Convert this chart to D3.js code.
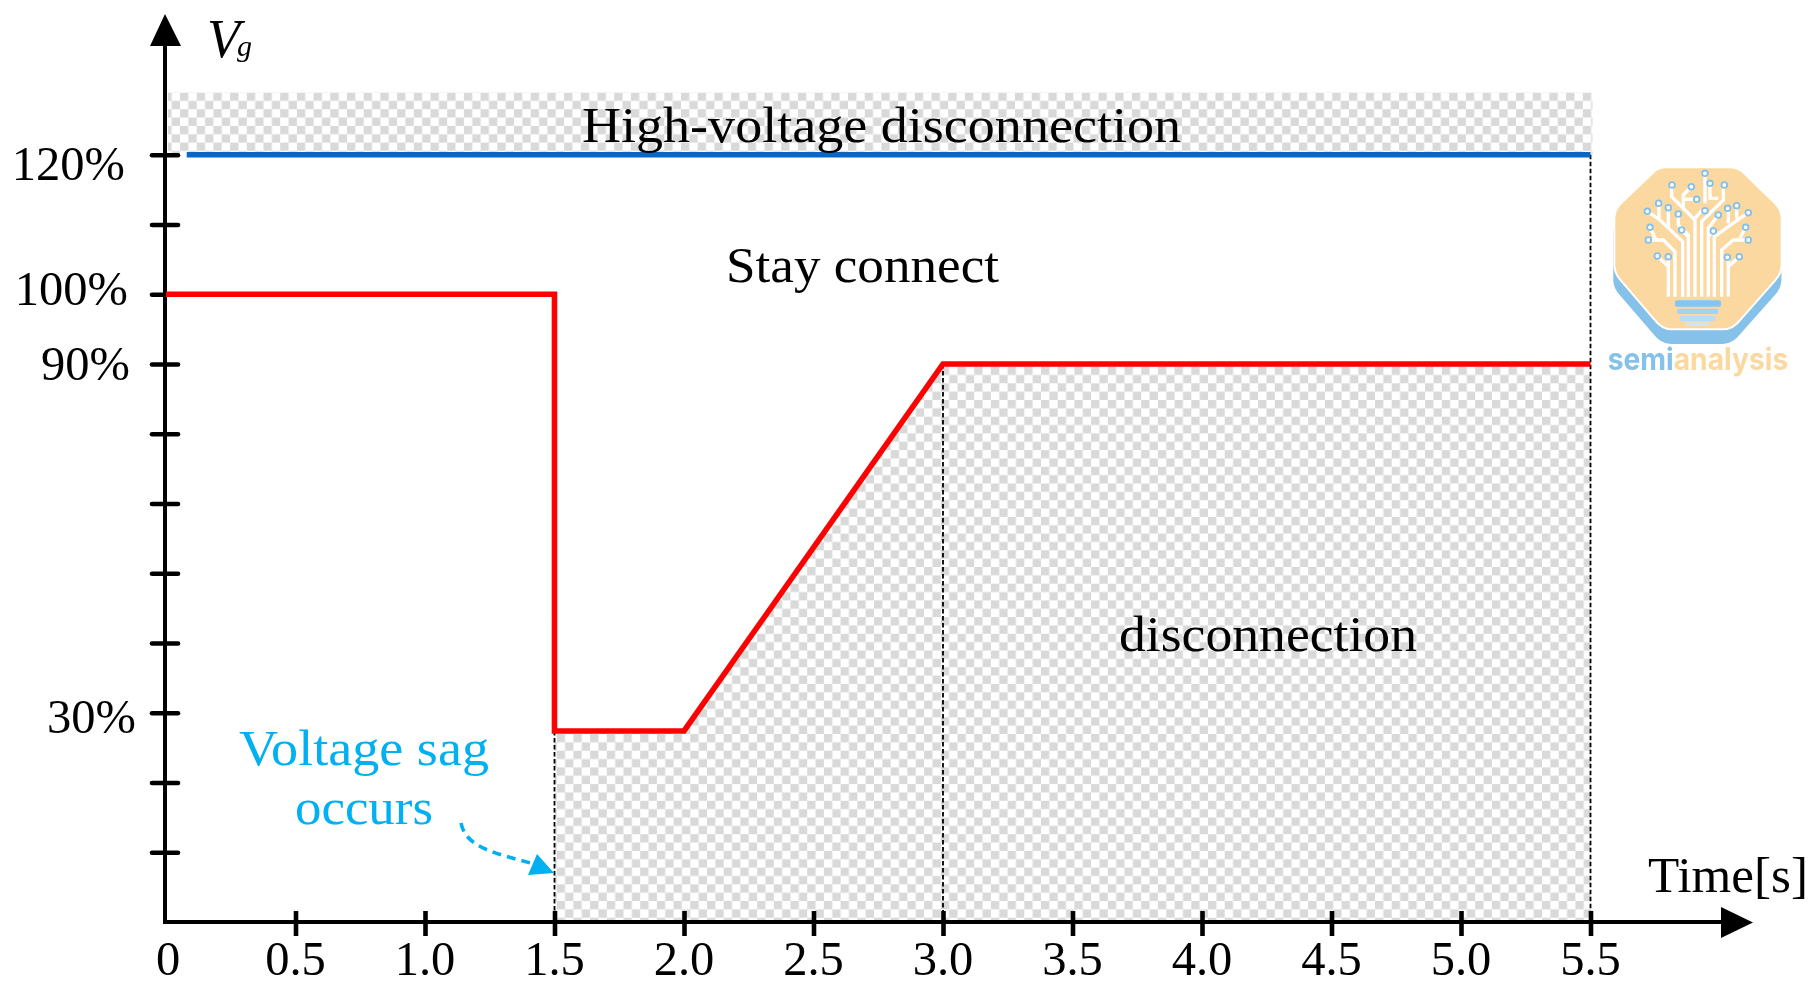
<!DOCTYPE html>
<html><head><meta charset="utf-8">
<script src="https://cdn.jsdelivr.net/npm/d3@7"></script>
<style>html,body{margin:0;padding:0;background:#fff;overflow:hidden}svg{display:block;filter:blur(0.45px)}
text{font-family:"Liberation Serif",serif;fill:#000}</style></head>
<body><svg id="c" width="1817" height="987"></svg>
<script>
// ---- data ----
const sagTimes   = [0, 1.5, 1.5, 2.0, 3.0, 5.5];
const sagVolts   = [100, 100, 27.4, 27.4, 90, 90];
const highTimes  = [0.08, 5.5];
const highVolts  = [120, 120];
const xTicks     = [0.5,1,1.5,2,2.5,3,3.5,4,4.5,5,5.5];
const xTickText  = ["0.5","1.0","1.5","2.0","2.5","3.0","3.5","4.0","4.5","5.0","5.5"];
const yTicks     = [10,20,30,42,54,66,78,90,100,110,120];
const yLabelVals = [120,100,90,30];
const yLabelText = ["120%","100%","90%","30%"];
const dropTimes  = [1.5,3.0,5.5];

const svg = d3.select("#c");
const x = d3.scaleLinear().domain([0,5.5]).range([166,1590.5]);
// the drawing's vertical axis is not uniform: 30% sits 3 ticks up, 90% 8 ticks up
const y = d3.scaleLinear().domain([0,30,90,100,120]).range([922,712.8,364,294.2,154.7]);

const defs = svg.append("defs");
function checker(id,ox,oy){
  const s=16.7,h=s/2;
  const p=defs.append("pattern").attr("id",id).attr("patternUnits","userSpaceOnUse")
    .attr("width",s).attr("height",s).attr("x",ox).attr("y",oy);
  p.append("rect").attr("width",s).attr("height",s).attr("fill","#fff");
  p.append("rect").attr("width",h).attr("height",h).attr("fill","#d9d9d9");
  p.append("rect").attr("x",h).attr("y",h).attr("width",h).attr("height",h).attr("fill","#d9d9d9");
}
checker("chkTop",180,92.5);
checker("chkLow",556.7,734);

// hatched regions
const area = d3.area().x(i=>x(sagTimes[i])).y1(i=>y(sagVolts[i])).y0(y(0));
svg.append("path").attr("fill","url(#chkLow)")
  .attr("d",area(sagTimes.map((d,i)=>i).slice(2)));
svg.append("rect").attr("fill","url(#chkTop)")
  .attr("x",x(0)+2).attr("y",92.5).attr("width",x(5.5)-x(0)).attr("height",y(120)-92.5);

// dashed droplines
const dropTop = t=> t===5.5 ? y(120) : t===3 ? y(90) : y(27.4);
svg.selectAll(".drop").data(dropTimes).join("line").attr("class","drop")
  .attr("x1",x).attr("x2",x).attr("y1",dropTop).attr("y2",y(0))
  .attr("stroke","#000").attr("stroke-width",1.8).attr("stroke-dasharray","4.5 2.5");

// axes
const xAxis = d3.axisBottom(x).tickValues(xTicks).tickFormat("").tickSize(12).tickSizeOuter(0);
const gx = svg.append("g").attr("transform",`translate(0,${y(0)})`).call(xAxis);
gx.select(".domain").attr("d",`M${x(0)-2},0H1725`).attr("stroke","#000").attr("stroke-width",4.2);
gx.selectAll(".tick line").attr("y1",-11).attr("y2",14).attr("stroke","#000").attr("stroke-width",4.6);
const yAxis = d3.axisLeft(y).tickValues(yTicks).tickFormat("").tickSize(12).tickSizeOuter(0);
const gy = svg.append("g").attr("transform",`translate(${x(0)-1},0)`).call(yAxis);
gy.select(".domain").attr("d",`M0,${y(0)+2}V42`).attr("stroke","#000").attr("stroke-width",4);
gy.selectAll(".tick line").attr("x1",-13).attr("x2",13).attr("stroke","#000").attr("stroke-width",4.6).attr("stroke-linecap","round");
svg.append("path").attr("d","M165,14L181,46L150,46Z").attr("fill","#000");
svg.append("path").attr("d","M1753,922.5L1721,907L1721,938Z").attr("fill","#000");

// lines
const line = d3.line().x(d=>x(d[0])).y(d=>y(d[1])).curve(d3.curveLinear);
svg.append("path").attr("fill","none").attr("stroke","#0a66c2").attr("stroke-width",5.4)
  .attr("d",line(highTimes.map((t,i)=>[t,highVolts[i]])));
svg.append("path").attr("fill","none").attr("stroke","#ff0000").attr("stroke-width",5.6).attr("stroke-linejoin","miter")
  .attr("d",line(sagTimes.map((t,i)=>[t,sagVolts[i]])));

// tick labels
const fs=50, tfs=48.5;
svg.selectAll(".xl").data(xTicks).join("text").attr("class","xl")
  .attr("x",d=>x(d)).attr("y",975).attr("text-anchor","middle").attr("font-size",tfs)
  .text((d,i)=>xTickText[i]);
svg.append("text").attr("x",168).attr("y",975).attr("text-anchor","middle").attr("font-size",tfs).text("0");
const yLabelDy = [25,11,16,20], yLabelRight=[125,128,130,136];
svg.selectAll(".yl").data(yLabelVals).join("text").attr("class","yl")
  .attr("x",(d,i)=>yLabelRight[i]).attr("y",(d,i)=>y(d)+yLabelDy[i]).attr("text-anchor","end").attr("font-size",tfs)
  .text((d,i)=>yLabelText[i]);

// titles / annotations
function label(t,x0,x1,b,c){
  return svg.append("text").attr("x",x0).attr("y",b).attr("font-size",fs)
    .attr("textLength",x1-x0).attr("lengthAdjust","spacingAndGlyphs").attr("fill",c||"#000").style("fill",c||"#000").text(t);
}
label("High-voltage disconnection",582,1181,142);
label("Stay connect",726,999,282);
label("disconnection",1119,1417,651);
label("Time[s]",1648,1808,892);
label("Voltage sag",239,489,765,"#00b0f0");
label("occurs",295,433,824,"#00b0f0");
svg.append("text").attr("x",207).attr("y",57).attr("font-size",54).attr("font-style","italic").text("V");
svg.append("text").attr("x",237).attr("y",56).attr("font-size",30).attr("font-style","italic").text("g");

// arrow to the sag instant
svg.append("path").attr("fill","none").attr("stroke","#00b0f0").attr("stroke-width",3.6).attr("stroke-dasharray","9 6")
  .attr("d","M461,823C466,848 495,853 534,864");
svg.append("path").attr("fill","#00b0f0").attr("d","M554,873L537,854L528,875Z");

// watermark logo (drawn in a 3x grid)
const logo = svg.append("g").attr("transform","translate(1560,140) scale(0.3333)");
const oct="M315,82H510Q535,82 555,102L645,190Q665,210 665,235V375Q665,400 645,422L545,535Q520,568 490,568H335Q305,568 280,535L183,422Q163,400 163,375V235Q163,210 183,190L275,102Q295,82 315,82Z";
logo.append("path").attr("d",oct).attr("fill","#85c1e9").attr("transform","translate(-2,44) translate(414,325) scale(1.005,1) translate(-414,-325)");
logo.append("path").attr("d",oct).attr("fill","#fbd89f").attr("stroke","#fff").attr("stroke-width",6);
const traces=[
 "M325,470V380L292,348","M325,380V350",
 "M345,470V335L310,300H265","M288,300L270,262",
 "M368,470V305L300,240L262,214","M297,235V190","M325,265V203",
 "M385,470V285L355,255V222","M385,290L365,270",
 "M405,470V240L335,170V135","M370,205V165L394,140","M370,178H410","M405,235L425,212H435",
 "M425,470V245L490,180V135","M435,100V190","M450,130V175H475",
 "M445,470V265L475,225","M445,290L460,273",
 "M463,470V290L540,235L565,218","M505,250V205","M530,235V197",
 "M485,470V330L520,300H565","M540,295L557,262",
 "M505,470V380V352","M505,380L538,350"];
const pads=[[292,348],[325,350],[265,300],[270,262],[262,214],[296,190],[325,203],[355,222],[365,270],
 [336,135],[394,140],[410,178],[435,212],[493,135],[435,100],[450,130],[475,225],[460,273],[565,218],[503,205],[530,197],[565,300],[557,262],[502,352],[538,350]];
logo.selectAll(".tr").data(traces).join("path").attr("class","tr").attr("d",d=>d)
  .attr("fill","none").attr("stroke","#fff").attr("stroke-width",10);
logo.selectAll(".pd").data(pads).join("circle").attr("class","pd").attr("cx",d=>d[0]).attr("cy",d=>d[1]).attr("r",8.5)
  .attr("fill","#fff").attr("stroke","#85c1e9").attr("stroke-width",5.5);
[[345,481,138,19,"#85c5f5"],[352,506,123,16,"#a3d2f5"],[360,528,107,15,"#b8dcf8"],[377,548,73,10,"#cfe6fa"]].forEach(r=>
  logo.append("rect").attr("x",r[0]).attr("y",r[1]).attr("width",r[2]).attr("height",r[3]).attr("rx",5).attr("fill",r[4]));
const wm=logo.append("text").attr("x",143).attr("y",691).attr("font-size",92).attr("textLength",542).attr("lengthAdjust","spacingAndGlyphs")
  .style("font-family","Inter,Roboto,sans-serif").style("font-weight",700);
wm.append("tspan").style("fill","#85c1e9").text("semi");
wm.append("tspan").style("fill","#fbd89f").text("analysis");
</script></body></html>
